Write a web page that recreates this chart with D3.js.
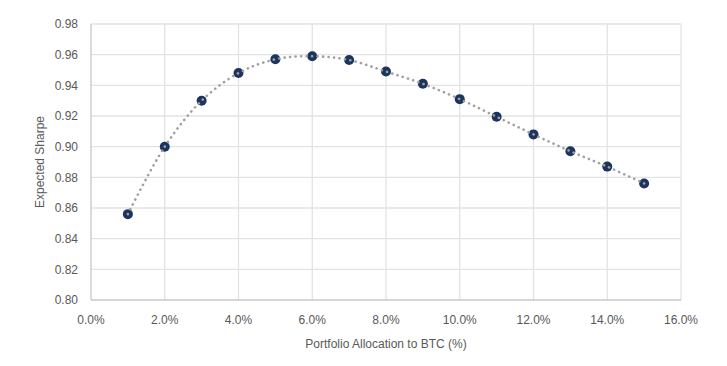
<!DOCTYPE html>
<html><head><meta charset="utf-8">
<script src="https://cdn.jsdelivr.net/npm/d3@7"></script>
<style>
body{margin:0;background:#fff;}
text{font-family:"Liberation Sans Narrow","Arial Narrow","Liberation Sans",Arial,sans-serif;fill:#595959;}
</style></head>
<body><svg id="c" width="727" height="366"></svg>
<script>
const allocation = [1,2,3,4,5,6,7,8,9,10,11,12,13,14,15];
const sharpe = [0.856,0.900,0.930,0.948,0.957,0.959,0.9565,0.949,0.941,0.931,0.9195,0.908,0.897,0.887,0.876];
const xTicks = [0,2,4,6,8,10,12,14,16];
const yTicks = [0.80,0.82,0.84,0.86,0.88,0.90,0.92,0.94,0.96,0.98];

const svg = d3.select("#c");
const m = {l:91, r:46, t:24, b:66};
const W = 727, H = 366;
const x = d3.scaleLinear().domain([0,16]).range([m.l, W-m.r]);
const y = d3.scaleLinear().domain([0.80,0.98]).range([H-m.b, m.t]);

// gridlines
svg.append("g").selectAll("line").data(yTicks.slice(1)).join("line")
  .attr("x1", m.l).attr("x2", W-m.r).attr("y1", d=>y(d)).attr("y2", d=>y(d))
  .attr("stroke","#e3e3e3").attr("stroke-width",1.3);
svg.append("g").selectAll("line").data(xTicks.slice(1)).join("line")
  .attr("x1", d=>x(d)).attr("x2", d=>x(d)).attr("y1", m.t).attr("y2", H-m.b)
  .attr("stroke","#e3e3e3").attr("stroke-width",1.3);
// axis lines
svg.append("line").attr("x1",m.l).attr("x2",m.l).attr("y1",m.t).attr("y2",H-m.b)
  .attr("stroke","#c8c8c8").attr("stroke-width",1.3);
svg.append("line").attr("x1",m.l).attr("x2",W-m.r).attr("y1",H-m.b).attr("y2",H-m.b)
  .attr("stroke","#c8c8c8").attr("stroke-width",1.3);

// tick labels
svg.append("g").selectAll("text").data(yTicks).join("text")
  .attr("x", m.l-13).attr("y", d=>y(d)).attr("dy","0.35em")
  .attr("text-anchor","end").attr("font-size","12px")
  .text(d=>d3.format(".2f")(d));
svg.append("g").selectAll("text").data(xTicks).join("text")
  .attr("x", d=>x(d)).attr("y", H-m.b+24)
  .attr("text-anchor","middle").attr("font-size","12px")
  .text(d=>d.toFixed(1)+"%");

// axis titles
svg.append("text").attr("transform",`translate(44,${(m.t+H-m.b)/2}) rotate(-90)`)
  .attr("text-anchor","middle").attr("font-size","12px").text("Expected Sharpe");
svg.append("text").attr("x",(m.l+W-m.r)/2).attr("y",H-18)
  .attr("text-anchor","middle").attr("font-size","12px").text("Portfolio Allocation to BTC (%)");

const pts = allocation.map((a,i)=>[a, sharpe[i]]);
// markers
svg.append("g").selectAll("circle").data(pts).join("circle")
  .attr("cx", d=>x(d[0])).attr("cy", d=>y(d[1])).attr("r",5)
  .attr("fill","#1b355e");
// dotted smooth line on top
const line = d3.line().x(d=>x(d[0])).y(d=>y(d[1])).curve(d3.curveCatmullRom.alpha(0.5));
svg.append("path").datum(pts).attr("d", line).attr("fill","none")
  .attr("stroke","#a0a0a0").attr("stroke-width",2.6)
  .attr("stroke-linecap","round").attr("stroke-dasharray","0.1,5.4");
</script></body></html>
